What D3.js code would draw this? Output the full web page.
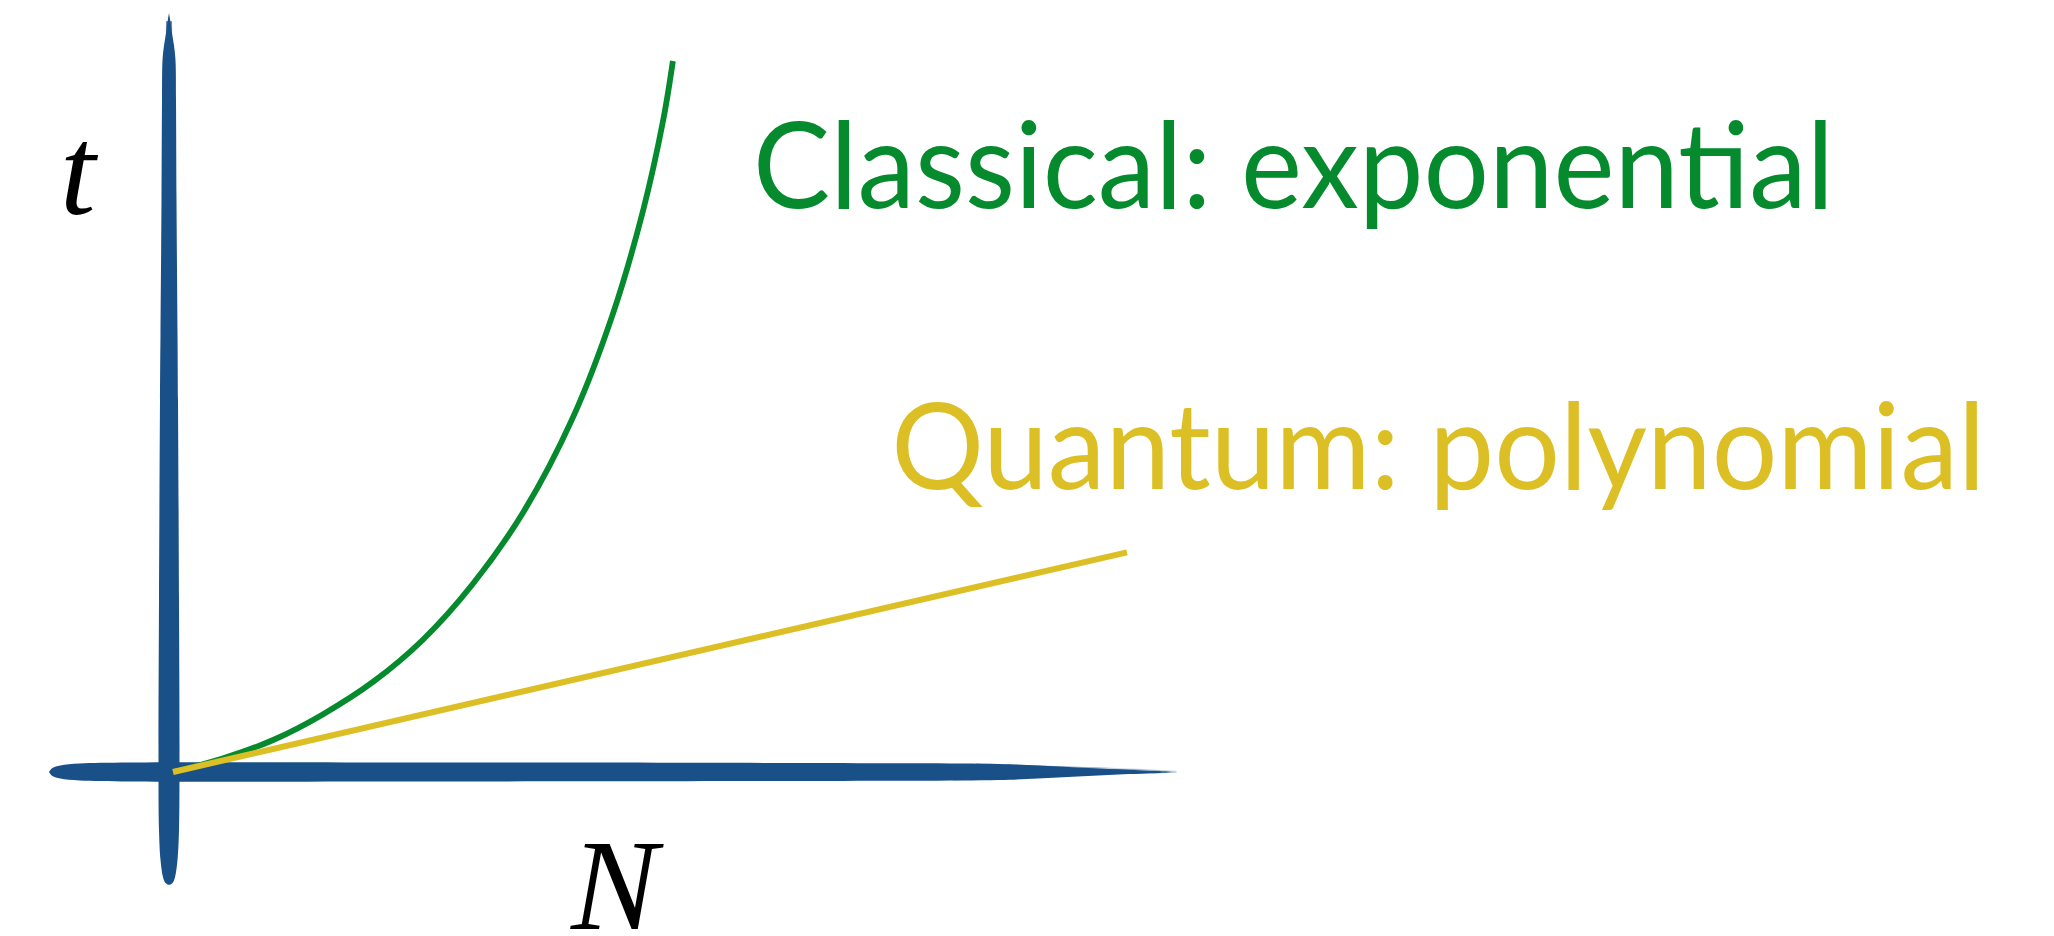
<!DOCTYPE html>
<html>
<head>
<meta charset="utf-8">
<script src="https://cdn.jsdelivr.net/npm/d3@7"></script>
<style>
  html, body { margin: 0; padding: 0; background: #fff; }
  svg { display: block; }
</style>
</head>
<body>
<svg id="chart" width="2054" height="936"></svg>
<script>
// Running time t against problem size N (arbitrary units)
const classicalN = [0, 5.2, 10.5, 15.7, 21.0, 26.2, 31.4, 36.7, 41.9, 46.1, 49.3, 51.4, 52.4];
const classicalT = [0, 1.9, 4.5, 8.1, 12.7, 18.6, 26.4, 36.5, 49.8, 64.4, 79.1, 91.8, 100];
const quantumN = [0, 100];
const quantumT = [0, 30.9];
const seriesLabels = ["Classical: exponential", "Quantum: polynomial"];
const axisLabels = ["t", "N"];

// Axis strokes run a little past the data range on both ends
const nAxisExtent = [-13, 105.5];
const tAxisExtent = [-15.9, 106.7];

const colors = { axis: "#1a5088", classical: "#068a2e", quantum: "#dcbf24", text: "#000" };

const svg = d3.select("#chart");
const W = 2054, H = 936;
svg.append("rect").attr("width", W).attr("height", H).attr("fill", "#fff");

const x = d3.scaleLinear().domain([0, 100]).range([173, 1127]);
const y = d3.scaleLinear().domain([0, 100]).range([772, 61]);

// ---- brush-stroke axes -------------------------------------------------
// half-width profiles along each stroke (fraction of length -> half width in px)
const vProfile = [[0,0],[0.0023,3.5],[0.009,6],[0.029,8.5],[0.063,10],[0.143,10.5],[0.327,10],[0.556,9],
                  [0.633,8.5],[0.786,7.5],[0.9,7],[0.946,6.5],[0.963,5],[0.977,3],[0.992,1.2],[1,0]];
const hProfile = [[0,0],[0.003,4],[0.01,6.5],[0.027,8.5],[0.072,9.5],[0.31,9.5],[0.664,9],[0.84,8],
                  [0.875,6.5],[0.91,4.5],[0.946,2.5],[0.982,1],[1,0]];

const vx = x(0) - 4;                       // stroke centre
const vBottom = y(tAxisExtent[0]), vTop = y(tAxisExtent[1]);
const vLen = vBottom - vTop;
const vArea = d3.area()
  .y(d => vBottom - d[0] * vLen)
  .x0(d => vx - d[1])
  .x1(d => vx + d[1])
  .curve(d3.curveCatmullRom);

const hy = y(0);
const hLeft = x(nAxisExtent[0]), hRight = x(nAxisExtent[1]);
const hLen = hRight - hLeft;
const hArea = d3.area()
  .x(d => hLeft + d[0] * hLen)
  .y0(d => hy - d[1])
  .y1(d => hy + d[1])
  .curve(d3.curveCatmullRom);

const axes = svg.append("g").attr("class", "axes");

// bristle streaks on the thin ends
const vStreaks = [[-7.5, 0.35, 0.5], [-5.5, 0.1, 0.7], [6, 0.2, 0.6], [7.5, 0.45, 0.45], [2, 0.05, 0.8]];
vStreaks.forEach(([dx, f0, op]) => {
  axes.append("path")
    .attr("d", d3.line()([[vx + dx * 0.9, vBottom - f0 * vLen], [vx + dx * 0.3, vTop + 8]]))
    .attr("stroke", colors.axis).attr("stroke-width", 1.6).attr("opacity", op).attr("fill", "none");
});

axes.append("path").attr("d", vArea(vProfile)).attr("fill", colors.axis);
axes.append("path").attr("d", hArea(hProfile)).attr("fill", colors.axis);

const hStreaks = [[-7.5, 0.82, 0.97, 2.2, 0.55], [-4, 0.86, 1.0, 2.5, 0.8], [-1.5, 0.88, 0.96, 2, 0.6],
                  [2.5, 0.84, 0.99, 2.6, 0.75], [5, 0.83, 0.93, 2.4, 0.5], [7.5, 0.8, 0.9, 2, 0.45],
                  [0.5, 0.9, 1.0, 1.5, 0.5]];
hStreaks.forEach(([dy, f0, f1, w, op]) => {
  const xa = hLeft + f0 * hLen, xb = hLeft + f1 * hLen;
  axes.append("path")
    .attr("d", `M${xa},${hy + dy - w / 2}L${xb},${hy + dy * 0.4}L${xa},${hy + dy + w / 2}Z`)
    .attr("fill", colors.axis).attr("opacity", op);
});

// ---- series -------------------------------------------------------------
const classicalLine = d3.line()
  .x(d => x(d[0])).y(d => y(d[1]))
  .curve(d3.curveCatmullRom.alpha(0.5));

svg.append("path")
  .datum(d3.zip(classicalN, classicalT))
  .attr("d", classicalLine)
  .attr("fill", "none")
  .attr("stroke", colors.classical)
  .attr("stroke-width", 5.8);

const quantumLine = d3.line().x(d => x(d[0])).y(d => y(d[1]));

svg.append("path")
  .datum(d3.zip(quantumN, quantumT))
  .attr("d", quantumLine)
  .attr("fill", "none")
  .attr("stroke", colors.quantum)
  .attr("stroke-width", 6);

// ---- labels -------------------------------------------------------------
const labelFont = "'Lato', 'Open Sans', sans-serif";
const labelSpecs = [
  { text: seriesLabels[0], n: 60.8, t: 79.3, color: colors.classical, width: 1081 },
  { text: seriesLabels[1], n: 75.3, t: 39.8, color: colors.quantum, width: 1094 }
];
labelSpecs.forEach(s => {
  svg.append("text")
    .attr("x", x(s.n))
    .attr("y", y(s.t))
    .attr("fill", s.color)
    .attr("font-family", labelFont)
    .attr("font-size", 120)
    .attr("textLength", s.width)
    .attr("lengthAdjust", "spacingAndGlyphs")
    .text(s.text);
});

const axisFont = "'Liberation Serif', 'DejaVu Serif', serif";
svg.append("text")
  .attr("x", 60).attr("y", 214)
  .attr("font-family", axisFont).attr("font-style", "italic")
  .attr("font-size", 128).attr("fill", colors.text)
  .text(axisLabels[0]);

svg.append("text")
  .attr("x", 571).attr("y", 929)
  .attr("font-family", axisFont).attr("font-style", "italic")
  .attr("font-size", 130).attr("fill", colors.text)
  .text(axisLabels[1]);
</script>
</body>
</html>
